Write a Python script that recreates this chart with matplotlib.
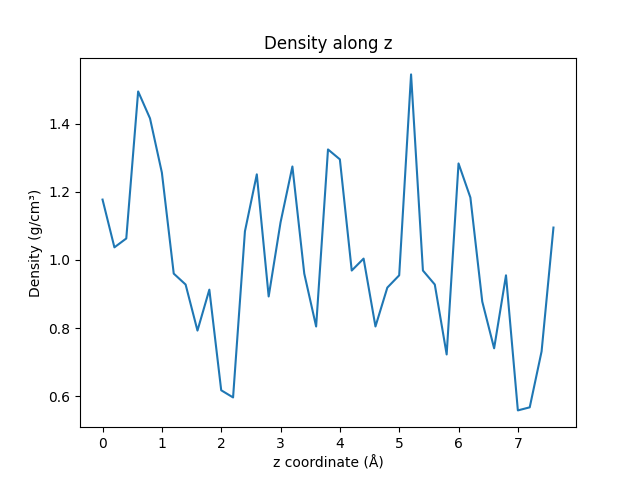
import matplotlib
matplotlib.use("Agg")
import matplotlib.pyplot as plt

z = [round(0.2 * i, 1) for i in range(39)]
density = [1.177, 1.037, 1.063, 1.494, 1.415, 1.256, 0.960, 0.928, 0.793, 0.913,
           0.618, 0.597, 1.084, 1.251, 0.893, 1.110, 1.274, 0.960, 0.805, 1.324,
           1.295, 0.969, 1.004, 0.805, 0.919, 0.955, 1.544, 0.969, 0.928, 0.723,
           1.283, 1.183, 0.878, 0.741, 0.955, 0.559, 0.568, 0.732, 1.095]

fig, ax = plt.subplots(figsize=(6.4, 4.8), dpi=100)
ax.plot(z, density)
ax.set_title("Density along z")
ax.set_xlabel("z coordinate (Å)")
ax.set_ylabel("Density (g/cm³)")
fig.savefig("out.png")
